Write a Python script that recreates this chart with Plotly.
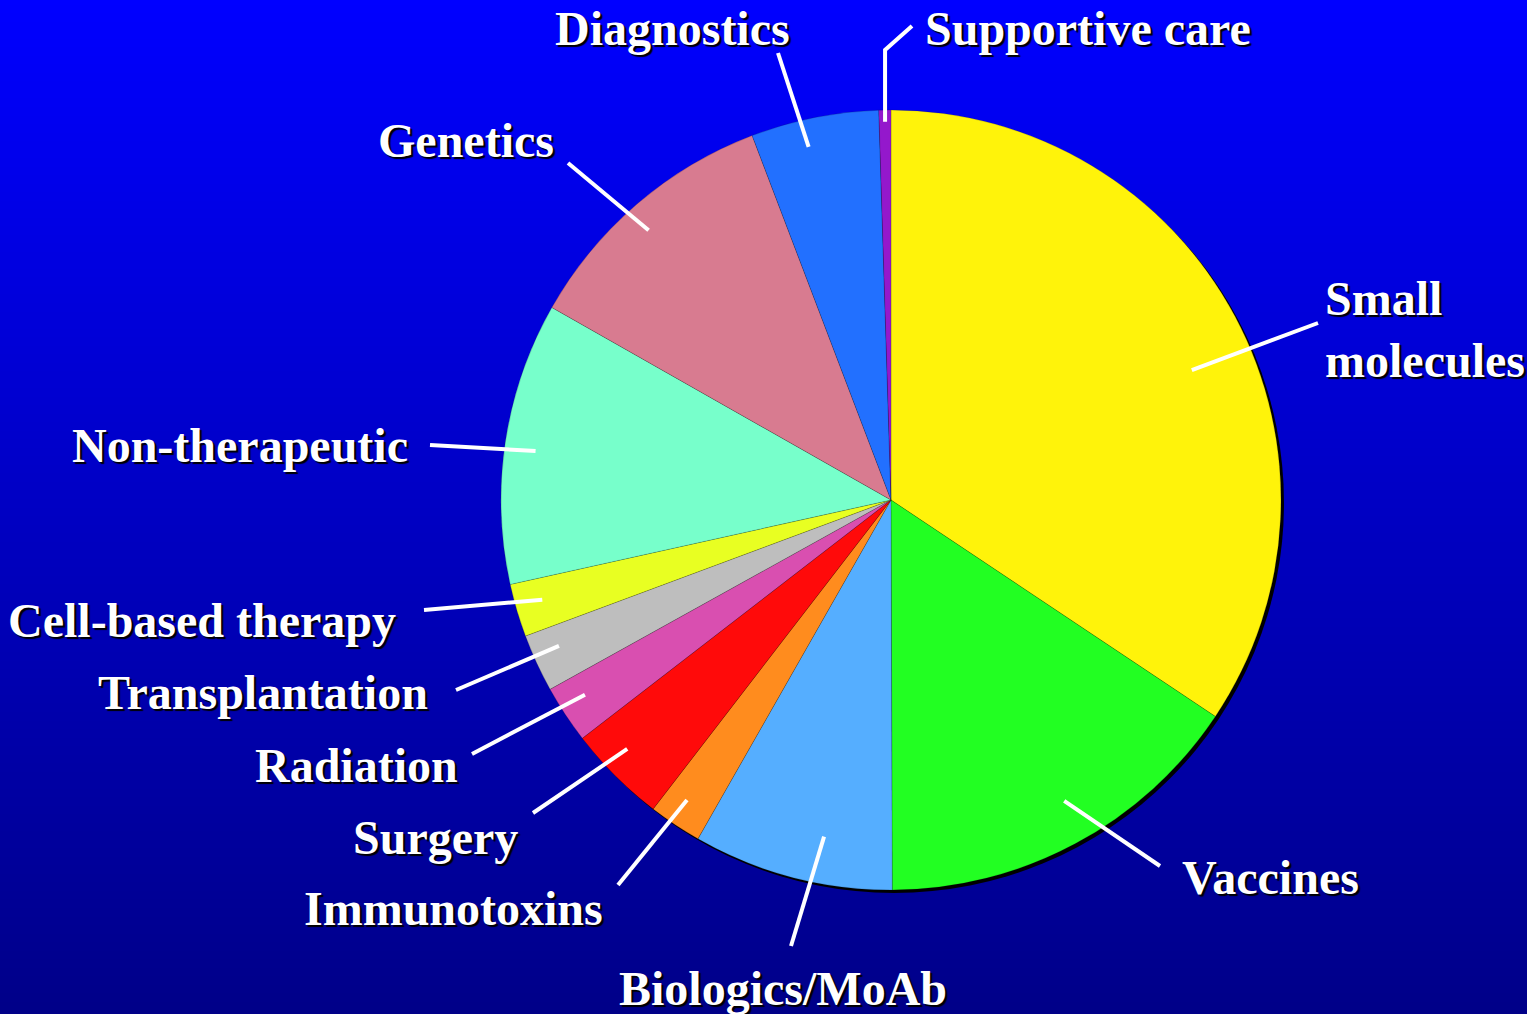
import math
import plotly.graph_objs as go

# slice data (percent), clockwise from 12 o'clock
categories = ['Small molecules', 'Vaccines', 'Biologics/MoAb', 'Immunotoxins', 'Surgery',
              'Radiation', 'Transplantation', 'Cell-based therapy', 'Non-therapeutic',
              'Genetics', 'Diagnostics', 'Supportive care']
shares = [34.4, 15.6, 8.3, 2.2, 4.1, 2.4, 2.4, 2.2, 11.7, 11.0, 5.3, 0.5]
colors = ['#FFF30A', '#22FF22', '#55AEFF', '#FF8C1E', '#FF0A0A', '#D94FB0',
          '#BEBEBE', '#E8FF22', '#77FFCB', '#D87B90', '#2270FF', '#9418CC']

W, H = 1527, 1014
CX, CY, R = 891, 500, 390


def px(x, y):
    return x / W, 1 - y / H


# label layout: text, anchor point (px), xanchor, leader outer end (px),
# inner radial fraction, angle nudge (deg) of the inner end
labels = {
    'Small molecules': ('Small<br>molecules', (1323, 329), 'left', (1318, 323), 0.84, 4.8),
    'Vaccines': ('Vaccines', (1180, 877), 'left', (1160, 866), 0.89, -1.7),
    'Biologics/MoAb': ('Biologics/MoAb', (783, 988), 'center', (791, 946), 0.88, -3.5),
    'Immunotoxins': ('Immunotoxins', (605, 908), 'right', (618, 885), 0.93, 0.6),
    'Surgery': ('Surgery', (520, 837), 'right', (533, 813), 0.93, 1.7),
    'Radiation': ('Radiation', (460, 765), 'right', (472, 754), 0.93, 0.9),
    'Transplantation': ('Transplantation', (430, 692), 'right', (456, 690), 0.93, 1.0),
    'Cell-based therapy': ('Cell-based therapy', (398, 620), 'right', (424, 610), 0.93, 0.5),
    'Non-therapeutic': ('Non-therapeutic', (410, 445), 'right', (430, 445), 0.92, -0.7),
    'Genetics': ('Genetics', (466, 140), 'center', (568, 163), 0.93, -1.3),
    'Diagnostics': ('Diagnostics', (672, 28), 'center', (778, 53), 0.93, -1.8),
    'Supportive care': ('Supportive care', (923, 28), 'left', (912, 26), 0.97, 0),
}

fig = go.Figure()

# gradient background
fig.add_trace(go.Heatmap(
    x=[0, 1], y=[0, 1], z=[[0, 0], [1, 1]], zsmooth='best',
    colorscale=[[0, 'rgb(0,0,136)'], [1, 'rgb(0,0,255)']],
    showscale=False, hoverinfo='skip'
))

# pie shadow
sx0, sy1 = px(CX - R + 3, CY - R + 3)
sx1, sy0 = px(CX + R + 3, CY + R + 3)
fig.add_trace(go.Pie(
    values=[1], marker=dict(colors=['black']), textinfo='none', hoverinfo='skip',
    showlegend=False, domain=dict(x=[sx0, sx1], y=[sy0, sy1])
))

x0, y1 = px(CX - R, CY - R)
x1, y0 = px(CX + R, CY + R)
fig.add_trace(go.Pie(
    labels=categories, values=shares, sort=False, direction='clockwise', rotation=0,
    marker=dict(colors=colors, line=dict(color='rgba(0,0,0,0.3)', width=0.5)),
    textinfo='none', showlegend=False, domain=dict(x=[x0, x1], y=[y0, y1])
))

total = sum(shares)
cum = 0
for name, v in zip(categories, shares):
    text, (ax, ay), xanchor, (ox, oy), frac, nudge = labels[name]
    mid = (cum + v / 2) / total * 2 * math.pi + math.radians(nudge)
    cum += v
    ix = CX + R * frac * math.sin(mid)
    iy = CY - R * frac * math.cos(mid)
    pts = [(ix, iy)]
    if name == 'Supportive care':
        pts.append((ix, 50))
    pts.append((ox, oy))
    path = 'M ' + ' L '.join('{} {}'.format(*px(a, b)) for a, b in pts)
    fig.add_shape(type='path', xref='paper', yref='paper',
                  path=path, line=dict(color='white', width=4))
    tx, ty = px(ax, ay)
    fig.add_annotation(
        x=tx, y=ty, xref='paper', yref='paper', text=text, showarrow=False,
        xanchor=xanchor, yanchor='middle', align='left',
        font=dict(family='Liberation Serif', size=48, color='white', weight='bold',
                  shadow='2px 2px 1px black')
    )

fig.update_layout(
    width=W, height=H,
    margin=dict(l=0, r=0, t=0, b=0),
    paper_bgcolor='#0000C0',
    plot_bgcolor='#0000C0',
    xaxis=dict(visible=False, range=[0, 1], domain=[0, 1], fixedrange=True),
    yaxis=dict(visible=False, range=[0, 1], domain=[0, 1], fixedrange=True),
    showlegend=False
)

fig.write_html('out.html', config={'displayModeBar': False},
               post_script="document.body.style.margin='0';")
